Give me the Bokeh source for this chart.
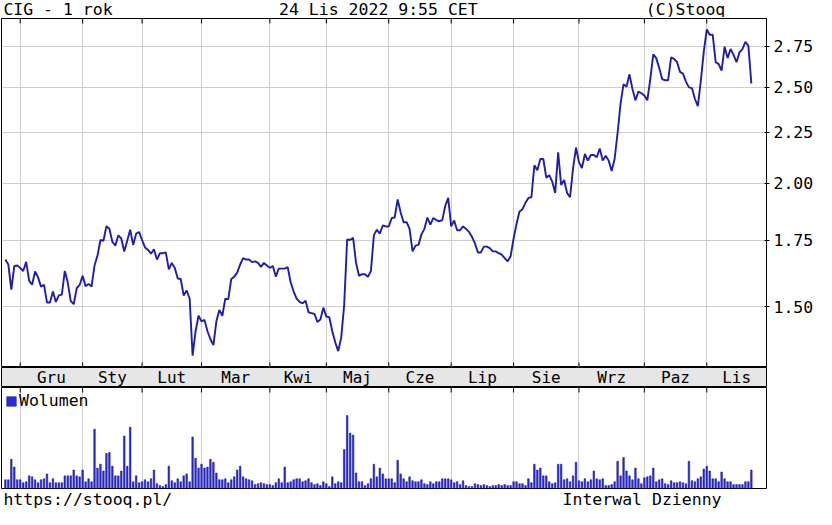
import math
from bokeh.plotting import figure
from bokeh.models import (Range1d, FixedTicker, PrintfTickFormatter, Grid,
                          Legend, LegendItem)
from bokeh.layouts import column
from bokeh.embed import file_html
from bokeh.resources import INLINE
from bokeh.core.properties import value

# ---------------- data ----------------
title_left = "CIG - 1 rok"
title_center = "24 Lis 2022 9:55 CET"
title_right = "(C)Stooq"
footer_left = "https://stooq.pl/"
footer_right = "Interwal Dzienny"
legend_label = "Wolumen"

months = ["Gru", "Sty", "Lut", "Mar", "Kwi", "Maj", "Cze", "Lip", "Sie", "Wrz", "Paz", "Lis"]
# trading-day index of the first session of each month (session 0 = 24 Nov 2021)
month_start_idx = [5, 26, 46, 66, 89, 108, 129, 150, 171, 193, 215, 236]
price_ticks = [1.50, 1.75, 2.00, 2.25, 2.50, 2.75]

close = [
    1.674, 1.655, 1.561, 1.649, 1.651, 1.642, 1.630, 1.665, 1.594, 1.579,
    1.628, 1.606, 1.572, 1.579, 1.515, 1.515, 1.554, 1.517, 1.540, 1.543,
    1.630, 1.587, 1.520, 1.509, 1.566, 1.578, 1.612, 1.573, 1.582, 1.572,
    1.651, 1.690, 1.752, 1.749, 1.809, 1.798, 1.745, 1.729, 1.771,
    1.758, 1.706, 1.749, 1.794, 1.732, 1.778, 1.785, 1.752, 1.722, 1.712,
    1.697, 1.715, 1.674, 1.699, 1.699, 1.702, 1.636, 1.661, 1.642, 1.602,
    1.600, 1.540, 1.558, 1.529, 1.339, 1.417, 1.469, 1.450, 1.455, 1.417,
    1.391, 1.372, 1.450, 1.489, 1.469, 1.529, 1.526, 1.600, 1.608, 1.624,
    1.655, 1.680, 1.674, 1.674, 1.664, 1.667, 1.661, 1.646,
    1.661, 1.651, 1.642, 1.649, 1.609, 1.639, 1.639, 1.639, 1.645, 1.587,
    1.554, 1.529, 1.517, 1.512, 1.521, 1.481, 1.478, 1.475, 1.448, 1.456,
    1.497, 1.466, 1.464, 1.417, 1.381, 1.353, 1.396, 1.506, 1.754, 1.752,
    1.761, 1.661, 1.612, 1.618, 1.618, 1.608, 1.630, 1.772, 1.794, 1.778,
    1.812, 1.808, 1.808, 1.844, 1.846, 1.925, 1.868, 1.826, 1.826, 1.798,
    1.706, 1.729, 1.732, 1.775, 1.798, 1.846, 1.816, 1.844, 1.835, 1.830,
    1.835, 1.896, 1.932, 1.808, 1.833, 1.792, 1.792, 1.808, 1.798, 1.785,
    1.765, 1.738, 1.702, 1.702, 1.725, 1.725, 1.719, 1.706, 1.706, 1.699,
    1.693, 1.680, 1.667, 1.687, 1.758, 1.819,
    1.872, 1.882, 1.910, 1.932, 1.935, 2.084, 2.060, 2.115, 2.115, 2.025,
    2.037, 2.007, 1.954, 2.148, 1.991, 2.014, 1.954, 1.935, 2.068, 2.172,
    2.100, 2.071, 2.140, 2.107, 2.135, 2.135, 2.124, 2.167, 2.107, 2.131,
    2.107, 2.057, 2.115, 2.248, 2.406, 2.517, 2.502, 2.575, 2.489, 2.424,
    2.474, 2.464, 2.451, 2.424, 2.546, 2.698, 2.674, 2.614, 2.546, 2.540,
    2.540, 2.678, 2.670, 2.649, 2.590, 2.579, 2.532, 2.498, 2.494, 2.433,
    2.391, 2.536, 2.715, 2.858, 2.823, 2.823, 2.649, 2.637, 2.598, 2.746,
    2.674, 2.731, 2.694, 2.649, 2.710, 2.731, 2.777, 2.752, 2.521,
]

volume = [
    9, 9, 30, 22, 9, 9, 6, 7, 13, 12,
    9, 6, 9, 10, 15, 6, 10, 6, 6, 6,
    13, 13, 13, 19, 13, 12, 19, 7, 10, 7,
    61, 21, 25, 18, 36, 37, 23, 13, 13, 18,
    54, 23, 63, 7, 13, 6, 7, 9, 7, 10,
    19, 5, 3, 2, 4, 23, 8, 6, 10, 7,
    13, 15, 7, 53, 31, 21, 25, 21, 22, 30,
    27, 16, 9, 9, 10, 6, 9, 12, 19, 23,
    12, 10, 9, 8, 4, 5, 6,
    5, 4, 4, 3, 6, 10, 6, 22, 6, 7,
    9, 10, 10, 7, 8, 10, 6, 4, 5, 3,
    7, 5, 2, 12, 5, 7, 6, 40, 75, 57,
    55, 16, 7, 7, 3, 5, 10, 25, 12, 21,
    15, 10, 10, 10, 6, 29, 15, 10, 7, 12,
    8, 7, 7, 9, 5, 4, 7, 5, 7, 7,
    10, 10, 10, 9, 6, 7, 4, 8, 3, 2,
    2, 5, 4, 3, 4, 3, 2, 3, 3, 4,
    3, 4, 3, 3, 7, 7,
    5, 5, 3, 10, 6, 25, 19, 21, 13, 13,
    7, 5, 6, 25, 25, 9, 10, 7, 13, 27,
    8, 7, 10, 7, 9, 18, 10, 9, 10, 3,
    3, 4, 7, 28, 13, 32, 18, 13, 9, 21,
    10, 5, 11, 12, 13, 21, 7, 9, 10, 5,
    4, 8, 6, 6, 7, 6, 5, 28, 8, 7,
    10, 12, 20, 23, 18, 10, 10, 7, 17, 10,
    7, 7, 4, 4, 4, 4, 7, 7, 19,
]

days_p = list(range(len(close)))
days_v = list(range(len(volume)))

# ---------------- style ----------------
W = 816
LB, RB = 1, 47
MONO_NAME = "DejaVu Sans Mono"
MONO = value(MONO_NAME)
FS = "16.5px"
LINE_COL = "#1e1eaa"
GRID_COL = "#cfcfcf"
BAR_FILL = "#2b2bd6"
BAR_LINE = "#18188c"

x_start = -1.3
x_end = len(close) + 4.1
xr = Range1d(x_start, x_end)
frame_r = W - RB


def text_strip(h, items, ymid):
    f = figure(width=W, height=h, x_range=Range1d(0, W), y_range=Range1d(0, h),
               toolbar_location=None, output_backend="svg",
               x_axis_type=None, y_axis_type=None, min_border=0,
               outline_line_color=None)
    for x, txt, align in items:
        f.text(x=[x], y=[ymid], text=[txt], text_align=align,
               text_baseline="middle", text_font=MONO,
               text_font_size=FS, text_color="black")
    return f


hdr = text_strip(17, [(LB + 1, title_left, "left"),
                      (402, title_center, "center"),
                      (frame_r + 3, title_right, "right")], 8.5)

month_ticker = FixedTicker(ticks=month_start_idx)


def frame_ticks(fig, y_values):
    # small month tick marks on the frame edge (half of each dash is clipped away)
    for yv in y_values:
        fig.scatter(x=month_start_idx, y=[yv] * len(month_start_idx), marker="dash",
                    angle=math.pi / 2, size=10, line_color="black", line_width=1)


# ---------------- price panel ----------------
y_lo, y_hi = 1.3025, 2.932
p = figure(width=W, height=350, x_range=xr, y_range=Range1d(y_lo, y_hi),
           y_axis_type="log", y_axis_location="right", x_axis_type=None,
           toolbar_location=None, output_backend="svg",
           min_border_left=LB, min_border_right=RB, min_border_top=1, min_border_bottom=0,
           outline_line_color="black", background_fill_color="white")
p.add_layout(Grid(dimension=0, ticker=month_ticker, grid_line_color=GRID_COL))

ya = p.yaxis[0]
ya.ticker = FixedTicker(ticks=price_ticks)
ya.formatter = PrintfTickFormatter(format="%.2f")
ya.major_label_text_font = MONO_NAME
ya.major_label_text_font_size = FS
ya.major_label_text_color = "black"
ya.major_tick_in = 2
ya.major_tick_out = 3
ya.major_label_standoff = 4
ya.minor_tick_line_color = None
ya.axis_line_color = "black"
p.ygrid.grid_line_color = GRID_COL

p.line(days_p, close, line_color=LINE_COL, line_width=1.9)
frame_ticks(p, [y_lo, y_hi])

# ---------------- month band ----------------
bounds = month_start_idx + [x_end]
centers = [(bounds[i] + bounds[i + 1]) / 2 for i in range(len(months))]
band = figure(width=W, height=20, x_range=xr, y_range=Range1d(0, 1),
              toolbar_location=None, output_backend="svg",
              x_axis_type=None, y_axis_type=None,
              min_border_left=LB, min_border_right=RB, min_border_top=0, min_border_bottom=0,
              outline_line_color="black", background_fill_color="#e6e6e6")
band.text(x=centers, y=[0.5] * len(months), text=months, text_align="center",
          text_baseline="middle", text_font=MONO, text_font_size="16px", text_color="black")

# ---------------- volume panel ----------------
v_hi = max(volume) * 1.385
v = figure(width=W, height=102, x_range=xr, y_range=Range1d(0, v_hi),
           x_axis_type=None, y_axis_type=None,
           toolbar_location=None, output_backend="svg",
           min_border_left=LB, min_border_right=RB, min_border_top=0, min_border_bottom=1,
           outline_line_color="black", background_fill_color="white")
v.add_layout(Grid(dimension=0, ticker=month_ticker, grid_line_color=GRID_COL))
vr = v.vbar(x=days_v, top=volume, width=0.55, fill_color=BAR_FILL,
            line_color=BAR_LINE, line_width=0.5)
frame_ticks(v, [v_hi])
leg = Legend(items=[LegendItem(label=legend_label, renderers=[vr])], location="top_left",
             label_text_font=MONO_NAME, label_text_font_size=FS, label_text_color="black",
             glyph_width=12, glyph_height=12, label_height=14, label_standoff=2,
             border_line_color=None, background_fill_alpha=0, margin=4, padding=3)
v.add_layout(leg)

ftr = text_strip(19, [(LB + 1, footer_left, "left"),
                      (frame_r - 1, footer_right, "right")], 9.5)

layout = column(hdr, p, band, v, ftr, spacing=0)
open("out.html", "w").write(file_html(layout, INLINE))
